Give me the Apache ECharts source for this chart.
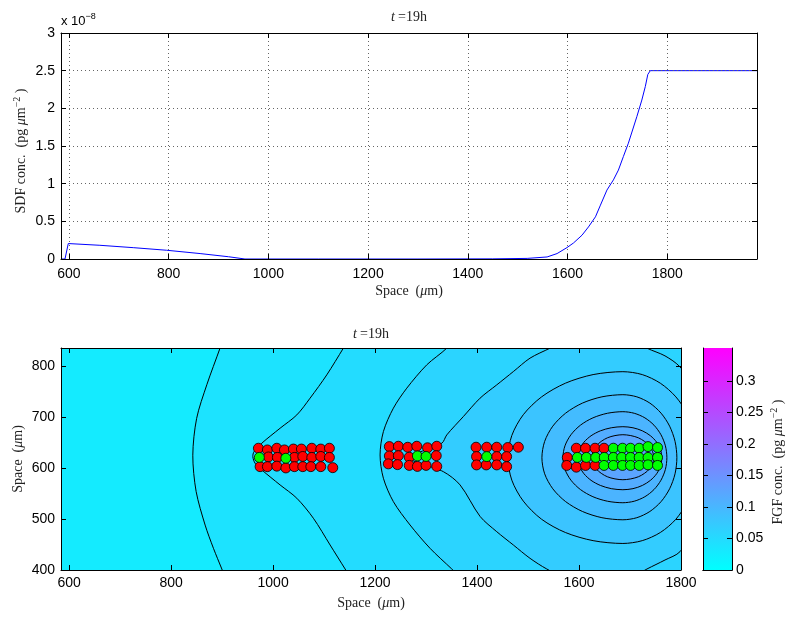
<!DOCTYPE html>
<html>
<head>
<meta charset="utf-8">
<script src="https://cdn.jsdelivr.net/npm/echarts@6/dist/echarts.min.js"></script>
<style>
  html, body { margin: 0; padding: 0; background: #fff; }
  #chart { width: 789px; height: 617px; }
</style>
</head>
<body>
<div id="chart"></div>
<script>
// ---- top panel: SDF profile (values in units of 1e-8) ----
const sdfSpace = [585, 592, 598.6, 662, 730, 796, 863, 920, 953, 1100, 1300, 1450, 1519, 1559, 1579, 1599, 1612, 1629, 1642, 1656, 1666, 1679, 1692, 1702, 1712, 1722, 1739, 1749, 1756, 1761, 1766, 1980];
const sdfConc  = [0, 0, 0.205, 0.182, 0.15, 0.116, 0.072, 0.03, 0, 0, 0, 0.002, 0.008, 0.027, 0.072, 0.152, 0.213, 0.316, 0.426, 0.56, 0.715, 0.915, 1.05, 1.18, 1.36, 1.537, 1.89, 2.11, 2.29, 2.45, 2.5, 2.5];

const spaceTicks = [600, 800, 1000, 1200, 1400, 1600, 1800];
const sdfTicks = [0, 0.5, 1, 1.5, 2, 2.5, 3];
const fgfYTicks = [400, 500, 600, 700, 800];
const barTicks = [0, 0.05, 0.1, 0.15, 0.2, 0.25, 0.3];

// ---- bottom panel: FGF contour lines (x, y in um) ----
const contour1 = [[901, 850], [896, 835], [870, 763], [850, 697], [842.5, 625], [849, 554], [866.7, 488], [883, 442.5], [899.4, 402], [906, 385]];
const contour2 = [[1147, 850], [1137.8, 834.7], [1105.3, 782.4], [1072.5, 736.7], [1046.5, 703.9], [1013.7, 677.8], [977.8, 648.4], [962.7, 632], [960.2, 622.2], [964.7, 609.2], [977.8, 596.1], [1013.7, 566.7], [1046.5, 540.6], [1079, 501.4], [1111.8, 449], [1141.2, 402], [1152, 385]];
const contour3 = [[1350, 850], [1340.6, 834.7], [1301.4, 802], [1262.2, 756.3], [1235.9, 717.1], [1216.3, 671.2], [1209.8, 625.5], [1216.3, 579.8], [1235.9, 533.9], [1268.6, 488.2], [1307.8, 442.5], [1350.4, 402], [1368, 385]];
const contour4 = [[1582.4, 854.9], [1660.8, 864.7], [1700, 854.9], [1733.3, 834.7], [1768.6, 819.6], [1798, 798], [1837.3, 743.1], [1856.9, 619.6], [1837.3, 498], [1798, 435.9], [1768.6, 419.6], [1733.3, 402], [1700, 384.3], [1641.2, 372.5], [1582.4, 380.4], [1536.7, 402], [1503.9, 422.9], [1471.2, 449], [1438.6, 475.1], [1405.9, 505], [1366.7, 566.7], [1333.9, 592.7], [1268.6, 619.6], [1330.8, 648.4], [1340.6, 664.7], [1373.1, 700.6], [1405.9, 736.7], [1438.6, 762.7], [1471.2, 788.8], [1503.9, 815.1], [1543.1, 834.7]];
const contour5 = [[1460.5, 620], [1468.2, 663.6], [1490.7, 704.3], [1526.5, 739.2], [1573.2, 766], [1627.6, 782.9], [1686, 788.6], [1724, 782.9], [1759.5, 766], [1790, 739.2], [1813.3, 704.3], [1828, 663.6], [1833, 620], [1828, 576], [1813.3, 535], [1790, 499.5], [1759.5, 473.5], [1724, 457.5], [1686, 452], [1627.6, 457.5], [1573.2, 473.5], [1526.5, 499.5], [1490.7, 535], [1468.2, 576]];
const contour6 = [[1527.2, 620], [1532.6, 652], [1548.5, 681.8], [1573.7, 707.3], [1606.6, 727], [1644.9, 739.3], [1686, 743.5], [1713.4, 739.3], [1739, 727], [1760.9, 707.3], [1777.7, 681.8], [1788.3, 652], [1791.9, 620], [1788.3, 588.5], [1777.7, 559.2], [1760.9, 534], [1739, 514.7], [1713.4, 502.5], [1686, 498.4], [1644.9, 502.5], [1606.6, 514.7], [1573.7, 534], [1548.5, 559.2], [1532.6, 588.5]];
const contour7 = [[1568.4, 620], [1572.4, 643.3], [1584.2, 665.1], [1602.8, 683.8], [1627.2, 698.1], [1655.6, 707.1], [1686, 710.2], [1708.3, 707.1], [1729.2, 698.1], [1747, 683.8], [1760.7, 665.1], [1769.4, 643.3], [1772.3, 620], [1769.4, 597.2], [1760.7, 575.9], [1747, 557.6], [1729.2, 543.6], [1708.3, 534.8], [1686, 531.8], [1655.6, 534.8], [1627.2, 543.6], [1602.8, 557.6], [1584.2, 575.9], [1572.4, 597.2]];
const contour8 = [[1597.8, 620], [1600.8, 635.7], [1609.6, 650.4], [1623.6, 663], [1641.9, 672.7], [1663.2, 678.7], [1686, 680.8], [1705.8, 678.7], [1724.3, 672.7], [1740.1, 663], [1752.3, 650.4], [1759.9, 635.7], [1762.5, 620], [1759.9, 603.8], [1752.3, 588.7], [1740.1, 575.7], [1724.3, 565.7], [1705.8, 559.4], [1686, 557.3], [1663.2, 559.4], [1641.9, 565.7], [1623.6, 575.7], [1609.6, 588.7], [1600.8, 603.8]];
const contour9 = [[1625.2, 620], [1633.3, 642.6], [1655.6, 659], [1686, 665.1], [1716.4, 659], [1738.7, 642.6], [1746.8, 620], [1738.7, 598.5], [1716.4, 582.7], [1686, 576.9], [1655.6, 582.7], [1633.3, 598.5]];

// FGF value of each filled band, lowest band first (pg um^-2)
const bandValues = [0.027, 0.038, 0.049, 0.060, 0.071, 0.082, 0.093, 0.104, 0.115, 0.126];
const fgfMax = 0.352;

// ---- cells ----
const redCells = [
  [971.2, 638.6], [988.8, 635.3], [1007.3, 638.6], [1022.2, 635.3], [1039.8, 637], [1055.5, 637], [1075.9, 638.6], [1093.5, 637], [1110.4, 638.6],
  [990.8, 621.5], [1008.4, 620.6], [1041.8, 620.6], [1058.2, 622.5], [1075.9, 620.6], [1093.5, 622.5], [1110.4, 620.6],
  [974.5, 602.5], [988.8, 602.5], [1007.3, 603.5], [1025, 600], [1041.8, 602.5], [1058.2, 602.5], [1074, 602.5], [1093.5, 602.5], [1117, 600.5],
  [1228, 641.8], [1245.7, 642.5], [1264.1, 640.5], [1281.8, 642.5], [1302.9, 639.5], [1321, 642.5],
  [1228, 623.5], [1245.7, 624], [1267, 621], [1320, 624],
  [1226, 608], [1244, 606.5], [1267, 605], [1283, 603], [1300, 605], [1321, 603],
  [1398, 640.6], [1419, 640.6], [1438.6, 640.6], [1460.2, 640], [1481, 640.6],
  [1399, 622.2], [1438.6, 622.2], [1458, 622.2],
  [1399, 605.9], [1418, 605.9], [1438.6, 605.9], [1458, 602.5],
  [1594.7, 638.6], [1612.7, 638.6], [1631.4, 638.6], [1649, 638.6],
  [1577, 620.6],
  [1575.9, 604.9], [1594.7, 601.5], [1612.7, 604.9], [1631.4, 604.9]
];
const greenCells = [
  [973, 620.6], [1025, 619],
  [1283, 623.5], [1300, 622.5],
  [1419, 622.2],
  [1667.3, 638.6], [1685.3, 638.6], [1701, 638.6], [1718, 638.6], [1735.3, 641.8], [1754, 640],
  [1596.7, 620.6], [1614.5, 620.6], [1632.7, 620.6], [1649.5, 620.6], [1667.3, 620.6], [1683.7, 620.6], [1701, 620.6], [1718, 620.6], [1735.3, 620.6], [1754, 620.6],
  [1649, 604.9], [1667.3, 604.9], [1685.3, 604.9], [1701, 604.9], [1718, 604.9], [1735.3, 606], [1754, 604.9]
];

// MATLAB 'cool' colormap
function cool(v) {
  const t = Math.max(0, Math.min(1, v / fgfMax));
  return 'rgb(' + Math.round(255 * t) + ',' + Math.round(255 * (1 - t)) + ',255)';
}

// open contours get closed far outside the right side of the plot (clipped away)
const farRight = [[1950, 385], [1950, 850]];
const fillRegions = [
  contour1.concat(farRight), contour2.concat(farRight), contour3.concat(farRight),
  contour4, contour5, contour6, contour7, contour8, contour9
].map((pts, i) => ({ pts: pts, color: cool(bandValues[i + 1]) }));

const contourLines = [
  { pts: contour1, closed: false }, { pts: contour2, closed: false }, { pts: contour3, closed: false },
  { pts: contour4, closed: true }, { pts: contour5, closed: true }, { pts: contour6, closed: true },
  { pts: contour7, closed: true }, { pts: contour8, closed: true }, { pts: contour9, closed: true }
];

const SERIF = '"Liberation Serif", "DejaVu Serif", serif';
const SANS = '"Liberation Sans", Arial, sans-serif';
const SMOOTH = 0.3;

function rich(size) {
  return {
    n: { fontFamily: SERIF, fontSize: size, fill: '#222' },
    i: { fontFamily: SERIF, fontSize: size, fontStyle: 'italic', fill: '#222' },
    t: { fontFamily: SERIF, fontSize: size, fontStyle: 'italic', fill: '#222', padding: [0, 3, 0, 0] },
    s: { fontFamily: SERIF, fontSize: Math.round(size * 0.7), fill: '#222', padding: [0, 0, Math.round(size * 0.55), 0] },
    a: { fontFamily: SANS, fontSize: 13, fill: '#000' },
    as: { fontFamily: SANS, fontSize: 9, fill: '#000', padding: [0, 0, 8, 0] }
  };
}

function label(x, y, text, rot) {
  return {
    type: 'text', x: x, y: y, rotation: rot || 0, z: 100,
    style: { text: text, rich: rich(14), align: 'center', verticalAlign: 'middle' }
  };
}

function axis(pos, gridIndex, min, max, ticks, showLabels, margin, grid) {
  return {
    type: 'value', gridIndex: gridIndex, position: pos, min: min, max: max, z: 10,
    axisLine: { show: true, onZero: false, lineStyle: { color: '#000', width: 1 } },
    axisTick: { show: true, inside: true, length: 5, customValues: ticks, lineStyle: { color: '#000', width: 1 } },
    axisLabel: showLabels
      ? { show: true, customValues: ticks, margin: margin, fontFamily: SANS, fontSize: 14, color: '#000',
          formatter: v => String(v) }
      : { show: false },
    splitLine: grid
      ? { show: true, lineStyle: { color: '#666', width: 1, type: [1, 3] } }
      : { show: false }
  };
}

const chart = echarts.init(document.getElementById('chart'));

chart.setOption({
  animation: false,
  backgroundColor: '#fff',
  grid: [
    { left: 61, top: 33, width: 696, height: 226 },
    { left: 61, top: 348, width: 620, height: 222, show: true, borderWidth: 0, backgroundColor: cool(bandValues[0]) },
    { left: 703, top: 348, width: 29, height: 222 }
  ],
  xAxis: [
    axis('bottom', 0, 584, 1980, spaceTicks, true, 8, true),
    axis('top', 0, 584, 1980, spaceTicks, false, 0, false),
    axis('bottom', 1, 584, 1800, spaceTicks, true, 6, false),
    axis('top', 1, 584, 1800, spaceTicks, false, 0, false),
    { type: 'category', gridIndex: 2, position: 'bottom', data: [''], z: 10,
      axisLine: { show: true, lineStyle: { color: '#000' } }, axisTick: { show: false }, axisLabel: { show: false } },
    { type: 'category', gridIndex: 2, position: 'top', data: [''], z: 10,
      axisLine: { show: true, lineStyle: { color: '#000' } }, axisTick: { show: false }, axisLabel: { show: false } }
  ],
  yAxis: [
    axis('left', 0, 0, 3, sdfTicks, true, 6, true),
    axis('right', 0, 0, 3, sdfTicks, false, 0, false),
    axis('left', 1, 400, 835, fgfYTicks, true, 6, false),
    axis('right', 1, 400, 835, fgfYTicks, false, 0, false),
    axis('right', 2, 0, fgfMax, barTicks, true, 4, false),
    axis('left', 2, 0, fgfMax, barTicks, false, 0, false)
  ],
  series: [
    {
      type: 'line', xAxisIndex: 0, yAxisIndex: 0,
      data: sdfSpace.map((x, i) => [x, sdfConc[i]]),
      showSymbol: false, symbol: 'none',
      lineStyle: { color: '#0000ff', width: 1 }, z: 5
    },
    {
      type: 'custom', xAxisIndex: 2, yAxisIndex: 2, clip: true, silent: true, z: 1,
      data: fillRegions.map(r => r.pts[0]),
      renderItem: function (params, api) {
        const r = fillRegions[params.dataIndex];
        return {
          type: 'polygon',
          shape: { points: r.pts.map(p => api.coord(p)), smooth: SMOOTH },
          style: { fill: r.color, stroke: null }
        };
      }
    },
    {
      type: 'custom', xAxisIndex: 2, yAxisIndex: 2, clip: true, silent: true, z: 2,
      data: contourLines.map(c => c.pts[0]),
      renderItem: function (params, api) {
        const c = contourLines[params.dataIndex];
        return {
          type: c.closed ? 'polygon' : 'polyline',
          shape: { points: c.pts.map(p => api.coord(p)), smooth: SMOOTH },
          style: { fill: 'none', stroke: '#000', lineWidth: 1 }
        };
      }
    },
    {
      type: 'scatter', xAxisIndex: 2, yAxisIndex: 2, data: redCells, symbolSize: 10, z: 3,
      itemStyle: { color: '#ff0000', borderColor: '#000', borderWidth: 0.8, opacity: 1 }
    },
    {
      type: 'scatter', xAxisIndex: 2, yAxisIndex: 2, data: greenCells, symbolSize: 10, z: 3,
      itemStyle: { color: '#00ff00', borderColor: '#000', borderWidth: 0.8, opacity: 1 }
    },
    {
      type: 'bar', xAxisIndex: 4, yAxisIndex: 4, data: [fgfMax], barWidth: '100%', z: 1,
      itemStyle: {
        color: new echarts.graphic.LinearGradient(0, 1, 0, 0, [
          { offset: 0, color: cool(0) }, { offset: 1, color: cool(fgfMax) }
        ])
      }
    }
  ],
  graphic: [
    label(409, 17, '{t|t}{n|=19h}'),
    { type: 'text', x: 61, y: 21, z: 100, style: { text: '{a|x 10}{as|−8}', rich: rich(13), align: 'left', verticalAlign: 'middle' } },
    label(409, 291, '{n|Space  (}{i|μ}{n|m)}'),
    label(21, 151, '{n|SDF conc.  (pg }{i|μ}{n|m}{s|−2}{n| )}', Math.PI / 2),
    label(371, 334, '{t|t}{n|=19h}'),
    label(371, 603, '{n|Space  (}{i|μ}{n|m)}'),
    label(18, 459, '{n|Space  (}{i|μ}{n|m)}', Math.PI / 2),
    label(778, 462, '{n|FGF conc.  (pg }{i|μ}{n|m}{s|−2}{n| )}', Math.PI / 2)
  ]
});
</script>
</body>
</html>
